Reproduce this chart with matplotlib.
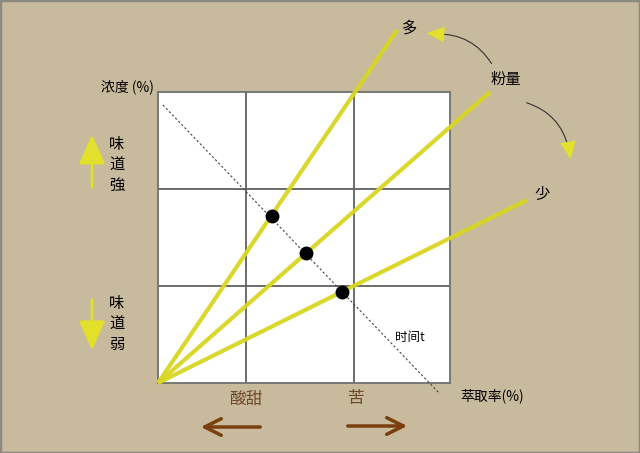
import matplotlib.pyplot as plt
from matplotlib.patches import Rectangle

plt.rcParams['font.family'] = ['Noto Sans CJK JP', 'DejaVu Sans']

BG = "#c8ba9c"
YELLOW = "#d8d622"
BROWN = "#7a3f0c"

# box is 0..3 on both axes (extraction %, concentration %)
grid_x = [0.904, 2.014]
grid_y = [1.0, 2.0]

# brew lines for dose: more / medium / less  (end points outside the box)
dose_names = ["多", "中", "少"]
line_end_x = [2.456, 3.411, 3.791]
line_end_y = [3.639, 3.000, 1.887]

# where time line crosses each dose line
dot_x = [1.171, 1.521, 1.890]
dot_y = [1.722, 1.340, 0.938]

time_x = [0.051, 2.897]
time_y = [2.866, -0.113]

W, H = 640, 453


def fx(px):
    return px / W


def fy(py):
    return 1 - py / H


fig = plt.figure(figsize=(6.4, 4.53), dpi=100, facecolor=BG)
fig.patches.append(Rectangle((0, 0), 1, 1, transform=fig.transFigure,
                             fill=False, edgecolor="#8c8a80", lw=2.5))

ax = fig.add_axes([fx(158), fy(383), 292 / W, 291 / H])
ax.set_facecolor("white")
ax.set_xlim(0, 3)
ax.set_ylim(0, 3)
ax.set_xticks([])
ax.set_yticks([])
for sp in ax.spines.values():
    sp.set_color("#707070")
    sp.set_linewidth(1.3)

for gx in grid_x:
    ax.axvline(gx, color="#606060", lw=1.3)
for gy in grid_y:
    ax.axhline(gy, color="#606060", lw=1.3)

ax.plot(time_x, time_y, color="#444444", lw=0.8, ls=(0, (2, 2)),
        clip_on=False, zorder=3)

for ex, ey in zip(line_end_x, line_end_y):
    ax.plot([0, ex], [0, ey], color=YELLOW, lw=3, alpha=0.95,
            solid_capstyle="butt", clip_on=False, zorder=4)

ax.plot(dot_x, dot_y, "o", color="black", ms=9, clip_on=False, zorder=5)

# labels
fig.text(fx(127), fy(87), "浓度 (%)", fontsize=10, ha="center", va="center")
fig.text(fx(492), fy(396), "萃取率(%)", fontsize=10, ha="center", va="center")
fig.text(fx(410), fy(338), "时间t", fontsize=9, ha="center", va="center")
fig.text(fx(410), fy(28), "多", fontsize=11, ha="center", va="center")
fig.text(fx(506), fy(79), "粉量", fontsize=11, ha="center", va="center")
fig.text(fx(542), fy(194), "少", fontsize=11, ha="center", va="center")
fig.text(fx(117), fy(165), "味\n道\n強", fontsize=11, ha="center",
         va="center", linespacing=1.25)
fig.text(fx(117), fy(324), "味\n道\n弱", fontsize=11, ha="center",
         va="center", linespacing=1.25)
fig.text(fx(246), fy(399), "酸甜", fontsize=12, ha="center", va="center",
         color="#6e4a2a")
fig.text(fx(356), fy(399), "苦", fontsize=12, ha="center", va="center",
         color="#6e4a2a")

# yellow up / down arrows
ystyle = "-|>,head_width=0.45,head_length=1.0"
fig.add_artist(plt.matplotlib.patches.FancyArrowPatch(
    (fx(92), fy(190)), (fx(92), fy(132)), transform=fig.transFigure,
    arrowstyle=ystyle, mutation_scale=18, color="#e2e02a", lw=2))
fig.add_artist(plt.matplotlib.patches.FancyArrowPatch(
    (fx(92), fy(297)), (fx(92), fy(353)), transform=fig.transFigure,
    arrowstyle=ystyle, mutation_scale=18, color="#e2e02a", lw=2))

# brown left / right arrows
bstyle = "-|>,head_width=0.3,head_length=0.6"
fig.add_artist(plt.matplotlib.patches.FancyArrowPatch(
    (fx(263), fy(427)), (fx(198), fy(427)), transform=fig.transFigure,
    arrowstyle="->,head_width=0.3,head_length=0.6", mutation_scale=20,
    color=BROWN, lw=2.5))
fig.add_artist(plt.matplotlib.patches.FancyArrowPatch(
    (fx(345), fy(426)), (fx(410), fy(426)), transform=fig.transFigure,
    arrowstyle="->,head_width=0.3,head_length=0.6", mutation_scale=20,
    color=BROWN, lw=2.5))

# curved arrows from 粉量
fig.add_artist(plt.matplotlib.patches.FancyArrowPatch(
    (fx(493), fy(66)), (fx(434), fy(34)), transform=fig.transFigure,
    arrowstyle="-", connectionstyle="arc3,rad=0.3", color="#333333", lw=0.8))
fig.add_artist(plt.matplotlib.patches.FancyArrowPatch(
    (fx(437), fy(34)), (fx(424), fy(33)), transform=fig.transFigure,
    arrowstyle="-|>,head_width=0.4,head_length=0.9", mutation_scale=14,
    color="#e2e02a", lw=0))
fig.add_artist(plt.matplotlib.patches.FancyArrowPatch(
    (fx(524), fy(102)), (fx(569), fy(150)), transform=fig.transFigure,
    arrowstyle="-", connectionstyle="arc3,rad=-0.3", color="#333333", lw=0.8))
fig.add_artist(plt.matplotlib.patches.FancyArrowPatch(
    (fx(569), fy(149)), (fx(571), fy(162)), transform=fig.transFigure,
    arrowstyle="-|>,head_width=0.4,head_length=0.9", mutation_scale=14,
    color="#e2e02a", lw=0))

fig.savefig("out.png", dpi=100, facecolor=BG)
